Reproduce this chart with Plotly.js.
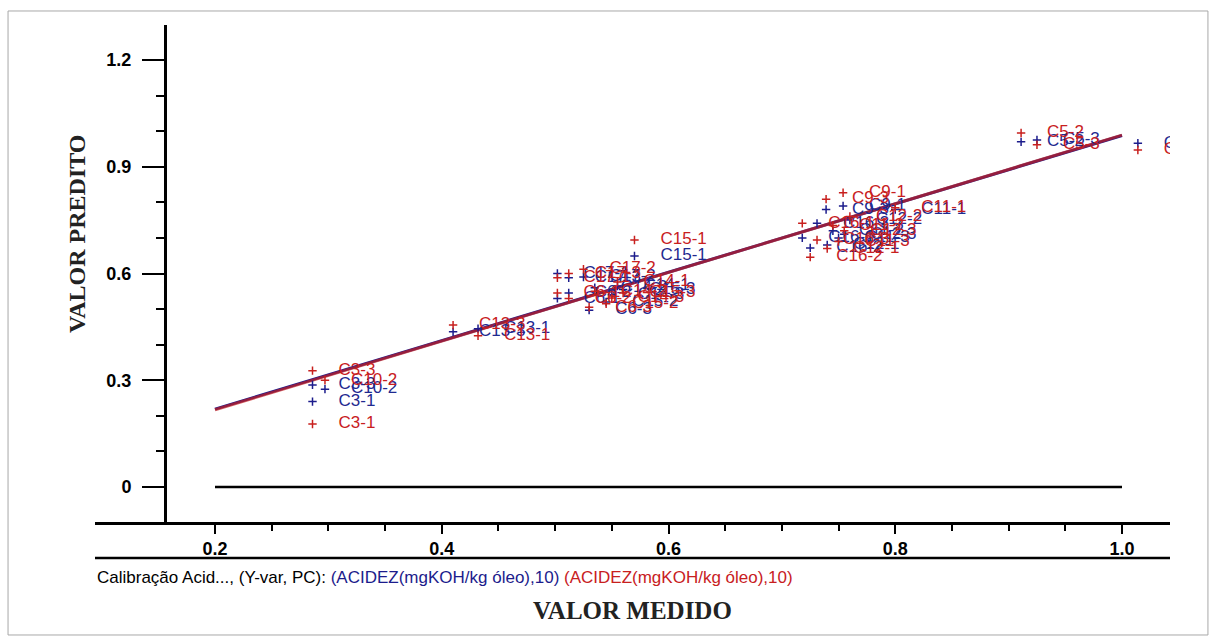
<!DOCTYPE html>
<html>
<head>
<meta charset="utf-8">
<script src="https://cdn.plot.ly/plotly-3.0.1.min.js"></script>
<style>html,body{margin:0;padding:0;background:#fff;}#chart{width:1216px;height:643px;}</style>
</head>
<body>
<div id="chart"></div>
<script>
// ---- data ----
const sampleNames = ["C3-1","C3-3","C10-2","C13-3","C13-1",
  "C17-1","C17-3","C6-1","C6-2","C17-2","C6-3","C14-2","C15-2","C14-3","C14-1","C15-3","C15-1",
  "C16-1","C16-3","C16-2","C9-3","C9-1","C12-1","C11-2","C11-3","C12-3","C12-2","C11-1",
  "C5-2","C5-3","C5-1"];
const measured = [0.286,0.286,0.297,0.410,0.432,
  0.502,0.512,0.502,0.512,0.525,0.530,0.535,0.545,0.550,0.555,0.560,0.570,
  0.718,0.731,0.725,0.739,0.754,0.740,0.745,0.750,0.755,0.760,0.800,
  0.911,0.925,1.014];
const predictedCal = [0.240,0.287,0.275,0.436,0.445,
  0.600,0.588,0.530,0.545,0.590,0.497,0.560,0.520,0.540,0.565,0.555,0.649,
  0.700,0.741,0.672,0.780,0.790,0.680,0.720,0.700,0.710,0.750,0.780,
  0.970,0.975,0.966];
const predictedVal = [0.177,0.327,0.300,0.455,0.425,
  0.588,0.600,0.545,0.530,0.612,0.505,0.550,0.515,0.531,0.576,0.545,0.694,
  0.741,0.694,0.646,0.809,0.827,0.670,0.735,0.690,0.720,0.760,0.785,
  0.995,0.962,0.947];
const fitX = [0.2, 1.0];
const fitCal = [0.219, 0.988];
const fitVal = [0.217, 0.989];
const zeroX = [0.2, 1.0];
const zeroY = [0, 0];
const xTickVals = [0.2, 0.4, 0.6, 0.8, 1.0];
const xTickText = ["0.2", "0.4", "0.6", "0.8", "1.0"];
const xMinorVals = [0.25,0.3,0.35,0.45,0.5,0.55,0.65,0.7,0.75,0.85,0.9,0.95];
const yTickVals = [0, 0.3, 0.6, 0.9, 1.2];
const yTickText = ["0", "0.3", "0.6", "0.9", "1.2"];
const yMinorVals = [0.1,0.2,0.4,0.5,0.7,0.8,1.0,1.1];

const BLUE = '#1c1c8c';
const RED = '#c8201e';
const labelFont = 'Liberation Sans, Arial, sans-serif';

const traces = [
  {x: zeroX, y: zeroY, mode: 'lines', line: {color: '#000', width: 2.5}, hoverinfo: 'skip'},
  {x: fitX, y: fitCal, mode: 'lines', line: {color: BLUE, width: 3}, hoverinfo: 'skip'},
  {x: fitX, y: fitVal, mode: 'lines', line: {color: RED, width: 3}, opacity: 0.7, hoverinfo: 'skip'},
  {x: measured, y: predictedCal, mode: 'markers',
   marker: {symbol: 'cross-thin', size: 6, color: BLUE, line: {width: 1.5, color: BLUE}}},
  {x: measured, y: predictedCal, mode: 'markers+text', text: sampleNames, textposition: 'middle right',
   textfont: {family: labelFont, size: 17, color: '#1f2a90'},
   marker: {size: 40, color: 'rgba(0,0,0,0)', line: {width: 0}}},
  {x: measured, y: predictedVal, mode: 'markers',
   marker: {symbol: 'cross-thin', size: 6, color: RED, line: {width: 1.5, color: RED}}},
  {x: measured, y: predictedVal, mode: 'markers+text', text: sampleNames, textposition: 'middle right',
   textfont: {family: labelFont, size: 17, color: RED},
   marker: {size: 40, color: 'rgba(0,0,0,0)', line: {width: 0}}}
];

const layout = {
  width: 1216, height: 643,
  margin: {l: 95, r: 46, t: 25, b: 121},
  paper_bgcolor: '#fff', plot_bgcolor: '#fff',
  showlegend: false,
  xaxis: {
    range: [0.09416, 1.04234], showgrid: false, zeroline: false,
    showline: true, linecolor: '#000', linewidth: 2.5,
    ticks: 'outside', ticklen: 9, tickwidth: 2, tickcolor: '#000',
    tickmode: 'array', tickvals: xTickVals, ticktext: xTickText,
    tickfont: {family: labelFont, size: 18, color: '#000', weight: 'bold'},
    minor: {tickmode: 'array', tickvals: xMinorVals, ticks: 'outside', ticklen: 6, tickwidth: 2, tickcolor: '#000', showgrid: false}
  },
  yaxis: {
    range: [-0.09836, 1.29836], anchor: 'free', position: 0.06512,
    showgrid: false, zeroline: false,
    showline: true, linecolor: '#000', linewidth: 2.5,
    ticks: 'outside', ticklen: 22, tickwidth: 2, tickcolor: '#000',
    tickmode: 'array', tickvals: yTickVals, ticktext: yTickText,
    ticklabelstandoff: 7,
    tickfont: {family: labelFont, size: 18, color: '#000', weight: 'bold'},
    minor: {tickmode: 'array', tickvals: yMinorVals, ticks: 'outside', ticklen: 8, tickwidth: 2, tickcolor: '#000', showgrid: false}
  },
  shapes: [
    {type: 'line', xref: 'paper', yref: 'paper', x0: 0, x1: 1, y0: -0.07243, y1: -0.07243,
     line: {color: '#000', width: 2.5}},
    {type: 'rect', xref: 'paper', yref: 'paper', x0: -0.0809, x1: 1.0353, y0: -0.22736, y1: 1.02817,
     line: {color: '#a8a8a8', width: 1}}
  ],
  annotations: [
    {text: 'VALOR PREDITO', xref: 'paper', yref: 'paper', x: -0.01674, y: 0.5795, textangle: -90,
     showarrow: false, xanchor: 'center', yanchor: 'middle',
     font: {family: 'Liberation Serif, Times New Roman, serif', size: 24, color: '#222', weight: 'bold'}},
    {text: 'VALOR MEDIDO', xref: 'paper', yref: 'paper', x: 0.5, y: -0.1771,
     showarrow: false, xanchor: 'center', yanchor: 'middle',
     font: {family: 'Liberation Serif, Times New Roman, serif', size: 25, color: '#222', weight: 'bold'}},
    {text: 'Calibração Acid..., (Y-var, PC): <span style="color:#1c1c8c">(ACIDEZ(mgKOH/kg óleo),10)</span> <span style="color:#c8201e">(ACIDEZ(mgKOH/kg óleo),10)</span>',
     xref: 'paper', yref: 'paper', x: 0, y: -0.1107, xanchor: 'left', yanchor: 'middle', showarrow: false,
     font: {family: labelFont, size: 17, color: '#000'}}
  ]
};

Plotly.newPlot('chart', traces, layout, {displayModeBar: false, staticPlot: true});
</script>
</body>
</html>
